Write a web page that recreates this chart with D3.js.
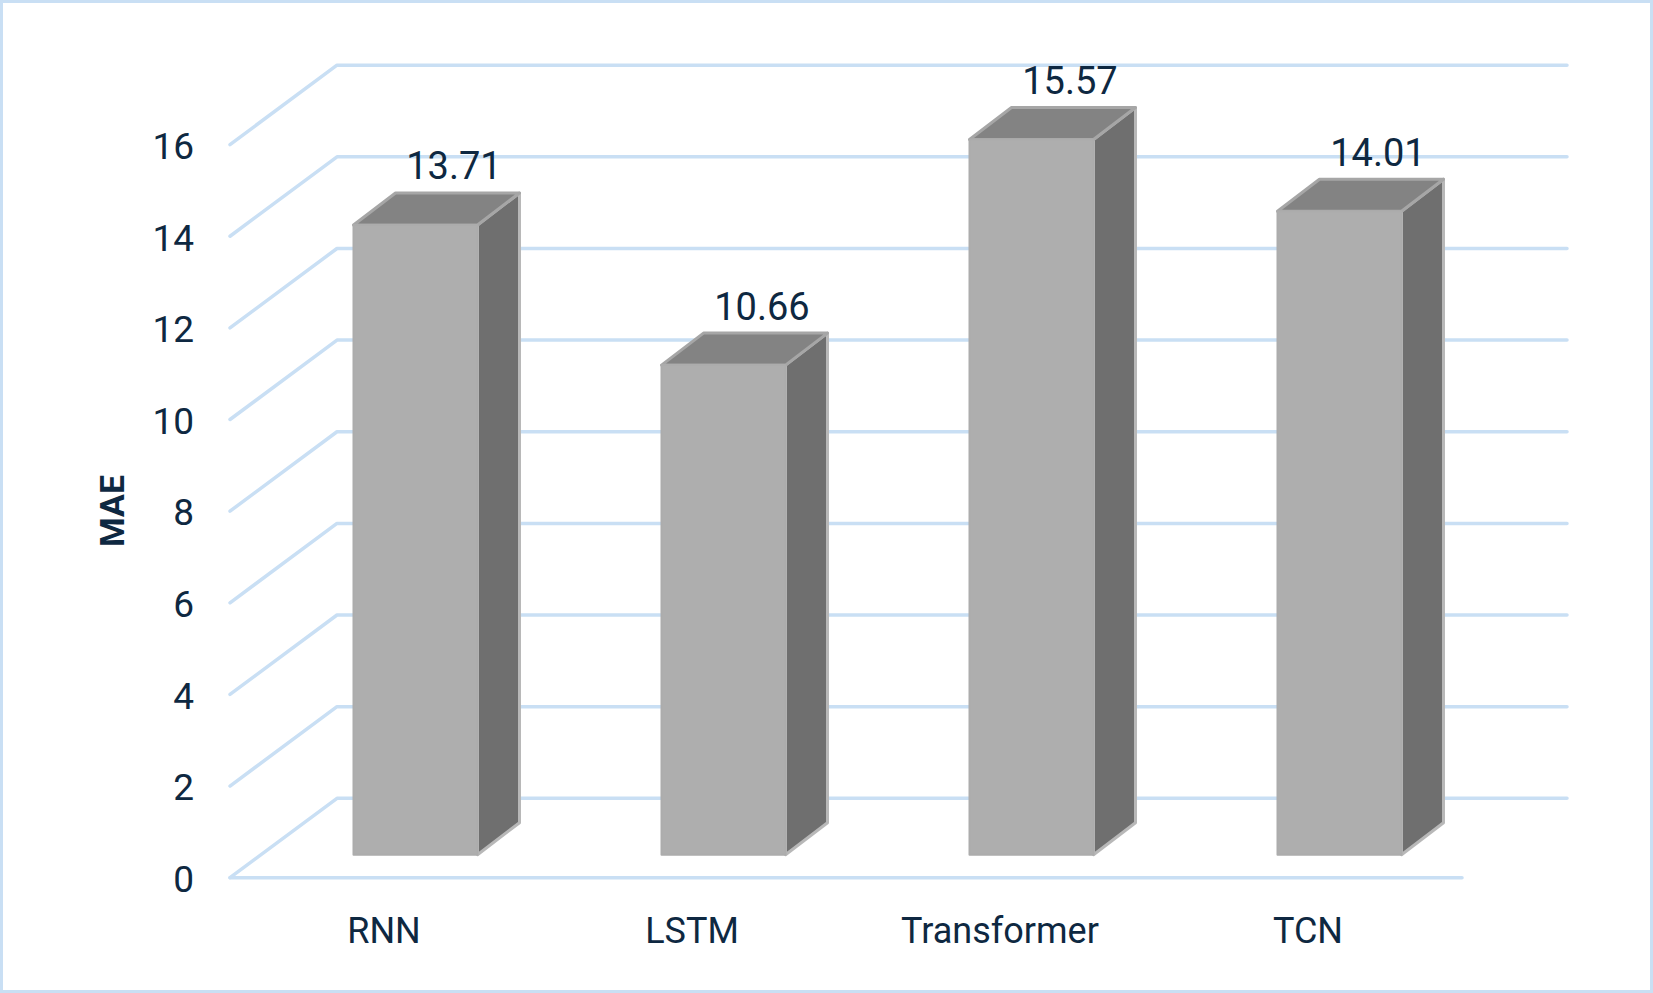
<!DOCTYPE html>
<html>

<head>
	<title>MAE by model</title>
	<meta charset="utf-8">
	<script src="https://cdn.jsdelivr.net/npm/d3@7"></script>
</head>

<style>
	html, body {
		margin: 0;
		padding: 0;
		background: #fff;
	}

	svg {
		display: block;
	}

	text {
		font-family: Roboto, sans-serif;
		fill: #0e2841;
	}
</style>

<body>

	<svg width="1653" height="993"></svg>

	<script>
		var categories = ["RNN", "LSTM", "Transformer", "TCN"];
		var maeValues = [13.71, 10.66, 15.57, 14.01];
		var tickValues = [0, 2, 4, 6, 8, 10, 12, 14, 16];

		var svg = d3.select("svg");

		// 3d offsets: wall is behind the floor front edge, bars have their own depth
		var wallLeft = 107, wallRight = 105, wallDy = -79.4;
		var barDx = 42, barDy = -32;
		var barWidth = 124, barShift = 32;

		var x = d3.scaleBand()
			.domain(categories)
			.range([230, 1462]);

		var y = d3.scaleLinear()
			.domain([0, 16])
			.range([877.7, 144.6]);

		var yBar = d3.scaleLinear()
			.domain([0, 16])
			.range([854.7, 119.8]);

		var line = d3.line();

		// page frame
		svg.append("rect")
			.attr("x", 1.5)
			.attr("y", 1.5)
			.attr("width", 1650)
			.attr("height", 990)
			.attr("fill", "#fff")
			.attr("stroke", "#c9dff4")
			.attr("stroke-width", 3);

		// gridlines: diagonal on the side wall, then across the back wall
		svg.append("g")
			.attr("class", "grid")
			.selectAll("path")
			.data(tickValues)
			.enter().append("path")
			.attr("fill", "none")
			.attr("stroke", "#c9dff4")
			.attr("stroke-width", 3.5)
			.attr("stroke-linecap", "round")
			.attr("stroke-linejoin", "round")
			.attr("d", function(d) {
				return line([
					[x.range()[0], y(d)],
					[x.range()[0] + wallLeft, y(d) + wallDy],
					[x.range()[1] + wallRight, y(d) + wallDy]
				]);
			});

		// front edge of the floor
		svg.append("path")
			.attr("fill", "none")
			.attr("stroke", "#c9dff4")
			.attr("stroke-width", 3.5)
			.attr("stroke-linecap", "round")
			.attr("d", line([[x.range()[0], y(0)], [x.range()[1], y(0)]]));

		var yAxis = d3.axisLeft(y)
			.tickValues(tickValues)
			.tickSize(0)
			.tickPadding(36);

		var yAxisG = svg.append("g")
			.attr("transform", "translate(230,2)")
			.call(yAxis);
		yAxisG.select(".domain").remove();
		yAxisG.selectAll("text")
			.style("font-family", "Roboto, sans-serif")
			.style("font-size", "37px")
			.attr("fill", "#0e2841");

		var xAxis = d3.axisBottom(x)
			.tickSize(0)
			.tickPadding(40);

		var xAxisG = svg.append("g")
			.attr("transform", "translate(0," + y(0) + ")")
			.call(xAxis);
		xAxisG.select(".domain").remove();
		xAxisG.selectAll("text")
			.style("font-family", "Roboto, sans-serif")
			.style("font-size", "36px")
			.attr("fill", "#0e2841");

		svg.append("text")
			.attr("transform", "translate(112,511) rotate(-90)")
			.attr("text-anchor", "middle")
			.attr("dominant-baseline", "central")
			.style("font-size", "34px")
			.style("font-weight", 700)
			.text("MAE");

		// bars
		var bars = svg.append("g")
			.attr("class", "bars")
			.selectAll("g")
			.data(categories)
			.enter().append("g");

		function barLeft(i) {
			return x(categories[i]) + x.bandwidth() / 2 + barShift - 125 / 2;
		}

		bars.append("path")
			.attr("fill", "#6f6f6f")
			.attr("stroke", "#b8b8b8")
			.attr("stroke-width", 3)
			.attr("stroke-linejoin", "round")
			.attr("d", function(d, i) {
				var r = barLeft(i) + barWidth;
				return line([
					[r, yBar(maeValues[i])],
					[r + barDx, yBar(maeValues[i]) + barDy],
					[r + barDx, yBar(0) + barDy],
					[r, yBar(0)]
				]) + "Z";
			});

		bars.append("path")
			.attr("fill", "#838383")
			.attr("stroke", "#a6a6a6")
			.attr("stroke-width", 3)
			.attr("stroke-linejoin", "round")
			.attr("d", function(d, i) {
				var l = barLeft(i), t = yBar(maeValues[i]);
				return line([
					[l, t],
					[l + barDx, t + barDy],
					[l + barWidth + barDx, t + barDy],
					[l + barWidth, t]
				]) + "Z";
			});

		bars.append("path")
			.attr("fill", "#aeaeae")
			.attr("stroke", "#acacac")
			.attr("stroke-width", 2)
			.attr("stroke-linejoin", "round")
			.attr("d", function(d, i) {
				var l = barLeft(i), t = yBar(maeValues[i]), b = yBar(0);
				return line([[l, t], [l + barWidth, t], [l + barWidth, b], [l, b]]) + "Z";
			});

		// value labels
		bars.append("text")
			.attr("x", function(d, i) { return barLeft(i) + 125 / 2 + 38; })
			.attr("y", function(d, i) { return yBar(maeValues[i]) - 58.5; })
			.attr("text-anchor", "middle")
			.attr("dominant-baseline", "central")
			.style("font-size", "38px")
			.text(function(d, i) { return maeValues[i].toFixed(2); });
	</script>
</body>

</html>
